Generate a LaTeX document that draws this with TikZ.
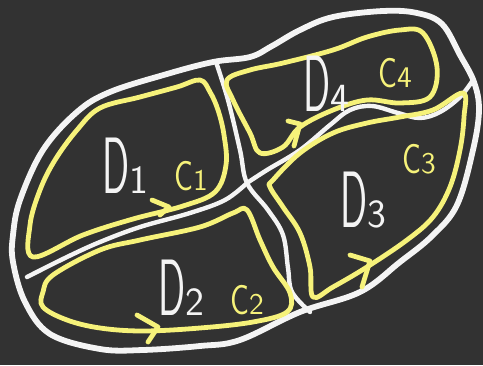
\documentclass[tikz,border=0pt]{standalone}
\usepackage{graphicx}
\usepackage{xcolor}
\definecolor{boardGrey}{HTML}{323232}
\definecolor{chalkWhite}{HTML}{F4F4F4}
\definecolor{chalkYellow}{HTML}{F6F27A}
\usetikzlibrary{arrows.meta,positioning,calc}
\newcommand{\dom}[1]{\scalebox{0.5}[1]{D}{\fontsize{20}{20}\selectfont #1}}
\newcommand{\bnd}[1]{\scalebox{0.75}[1]{C}{\fontsize{15}{15}\selectfont #1}}

\begin{document}
\begin{tikzpicture}[x=0.5pt,y=-0.5pt,
 outline/.style={draw=chalkWhite,line width=2.9pt,line cap=round,line join=round},
 cut/.style={draw=chalkWhite,line width=2.2pt,line cap=round,line join=round},
 contour/.style={draw=chalkYellow,line width=2.4pt,line cap=round,line join=round},
 domLabel/.style={text=chalkWhite,inner sep=0pt,font=\sffamily\fontsize{40}{40}\selectfont},
 curveLabel/.style={text=chalkYellow,inner sep=0pt,font=\sffamily\fontsize{21}{21}\selectfont}]
 \fill[boardGrey] (0,0) rectangle (483,365);
 \useasboundingbox (0,0) rectangle (483,365);
 \coordinate (hub) at (247,183);
 \coordinate (top) at (216,62);
 \coordinate (bottom) at (310,312);
 \coordinate (west) at (27,277);
 \coordinate (east) at (473,80);
 \draw[outline] plot[smooth cycle,tension=0.6] coordinates {(20,200) (43,150) (77,112) (110,92)
 (167,74) (213,62) (250,57) (272,46) (300,30) (333,17) (383,11) (417,13) (442,24) (460,55)
 (474,82) (479,110) (473,150) (457,205) (432,236) (400,262) (360,292) (300,312) (240,340)
 (200,346) (143,350) (100,349) (50,334) (25,302) (13,262) (13,235)};
 \draw[cut] plot[smooth,tension=0.6] coordinates {(top) (228,100) (240,150) (hub) (268,210)
 (283,235) (288,268) (292,292) (bottom)};
 \draw[cut] plot[smooth,tension=0.6] coordinates {(west) (67,257) (100,242) (140,227) (190,213)
 (225,200) (hub)};
 \draw[cut] plot[smooth,tension=0.6] coordinates {(hub) (267,170) (300,150) (330,125) (350,110)
 (372,106) (398,113) (420,118) (440,112) (460,97) (east)};
 \draw[contour] plot[smooth cycle,tension=0.6] coordinates {(33,257) (30,225) (40,190) (55,160)
 (77,130) (100,108) (140,97) (177,87) (200,80) (210,92) (218,110) (224,135) (226,165) (215,192)
 (183,206) (133,219) (83,235)};
 \draw[contour] plot[smooth cycle,tension=0.6] coordinates {(43,292) (43,307) (67,320) (100,328)
 (143,331) (200,328) (253,322) (287,312) (290,293) (273,267) (260,240) (247,210) (233,213)
 (200,227) (140,240) (100,250) (53,275)};
 \draw[contour] plot[smooth cycle,tension=0.6] coordinates {(273,180) (300,153) (333,133)
 (367,123) (400,117) (433,110) (463,93) (464,117) (460,150) (450,187) (433,217) (407,240)
 (367,267) (333,287) (313,297) (310,267) (300,233) (283,207) (270,187)};
 \draw[contour] plot[smooth cycle,tension=0.6] coordinates {(227,80) (250,70) (283,63) (333,50)
 (367,37) (400,30) (423,33) (437,67) (430,97) (400,103) (367,100) (333,110) (300,127) (283,147)
 (260,153) (250,133) (233,100)};
 \draw[contour] (152,200) -- (169,207) -- (160,215);
 \draw[contour] (137,315) -- (158,327) -- (148,342);
 \draw[contour] (350,255) -- (370,261) -- (362,287);
 \draw[contour] (288,121) -- (300,124) -- (294,146);
 \node[domLabel] (d1) at (125,166) {\dom{1}};
 \node[domLabel] (d2) at (181,288) {\dom{2}};
 \node[domLabel] (d3) at (363,200) {\dom{3}};
 \node[domLabel] (d4) at (326,84) {\dom{4}};
 \node[curveLabel] (c1) at (191,176) {\bnd{1}};
 \node[curveLabel] (c2) at (247,300) {\bnd{2}};
 \node[curveLabel] (c3) at (419,159) {\bnd{3}};
 \node[curveLabel] (c4) at (395,73) {\bnd{4}};
\end{tikzpicture}
\end{document}
